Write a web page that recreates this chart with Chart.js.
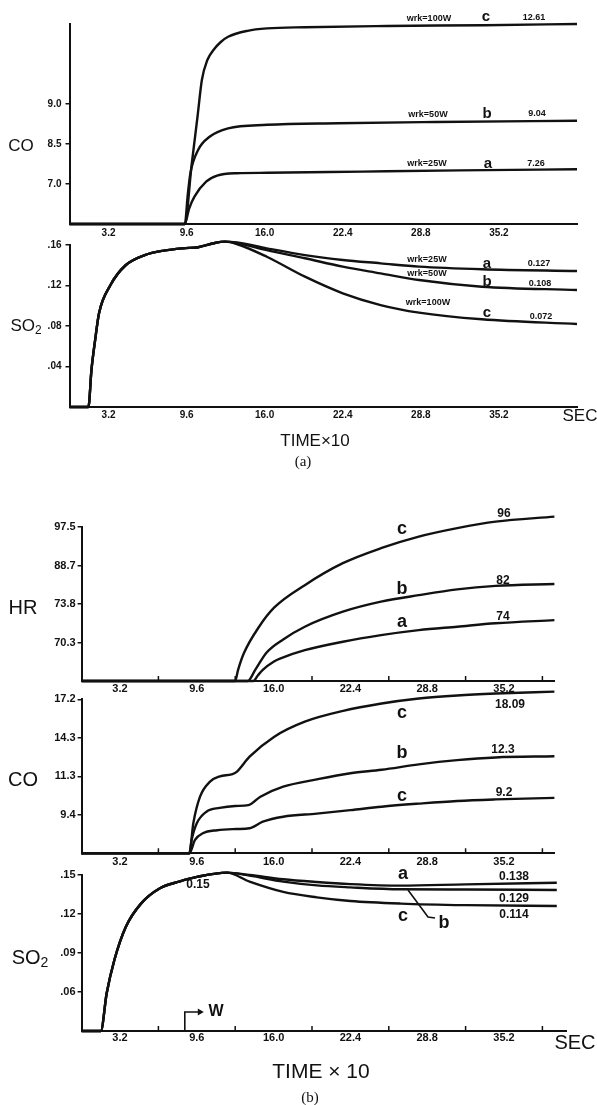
<!DOCTYPE html>
<html>
<head>
<meta charset="utf-8">
<script src="https://cdn.jsdelivr.net/npm/chart.js@4.4.1/dist/chart.umd.min.js"></script>
<style>
  html, body { margin: 0; padding: 0; background: #fff; }
  #page { position: relative; width: 597px; height: 1105px; overflow: hidden;
          font-family: "Liberation Sans", Arial, sans-serif; color: #111; }
  canvas { position: absolute; left: 0; }
  .lbl { position: absolute; transform: translate(-50%, -50%); white-space: nowrap; line-height: 1; }
  .axA { font-size: 17px; }
  .axB { font-size: 20px; }
  .axA sub, .axB sub { font-size: 0.7em; vertical-align: -0.25em; }
  .wrk { font-size: 9px; font-weight: bold; }
  .letA { font-size: 15px; font-weight: bold; }
  .numA { font-size: 9px; font-weight: bold; }
  .letB { font-size: 18px; font-weight: bold; }
  .numB { font-size: 12px; font-weight: bold; }
  .secA { font-size: 17px; }
  .secB { font-size: 20px; }
  .timeA { font-size: 17px; }
  .timeB { font-size: 21px; }
  .cap { font-family: "Liberation Serif", serif; font-size: 15px; }
  .w { font-size: 16px; font-weight: bold; }
</style>
</head>
<body>
<div id="page">
  <canvas id="coA"></canvas>
  <canvas id="so2A"></canvas>
  <canvas id="hrB"></canvas>
  <canvas id="coB"></canvas>
  <canvas id="so2B"></canvas>
</div>
<script>
// ============================
// DATA
// ============================

// time axis (x10 sec)
const TIME_LABELS = [3.2, 9.6, 16.0, 22.4, 28.8, 35.2];
const TIME_MARKS = [6.4, 12.8, 19.2, 25.6, 32.0, 38.4];

// (a) CO - printed ticks are not evenly valued, so curves sit on tick steps
const coA_ticks = [1, 2, 3];
const coA_tickLabels = ["7.0", "8.5", "9.0"];
const coA_tC = [0, 9.45, 10.0, 10.5, 10.85, 11.3, 11.8, 12.4, 13.0, 14.6, 16.2, 19.3, 26, 34, 41.6];
const coA_c  = [0, 0, 1.45, 2.7, 3.6, 4.1, 4.35, 4.55, 4.68, 4.83, 4.89, 4.92, 4.95, 4.97, 5.0];
const coA_tB = [0, 9.45, 9.7, 9.91, 10.54, 11.48, 13.0, 16.2, 22, 30, 41.6];
const coA_b  = [0, 0, 0.75, 1.27, 1.85, 2.18, 2.39, 2.48, 2.52, 2.55, 2.58];
const coA_tA = [0, 9.45, 9.8, 10.23, 11.2, 12.1, 13.7, 16.2, 24, 32, 41.6];
const coA_a  = [0, 0, 0.38, 0.68, 1.06, 1.21, 1.27, 1.28, 1.31, 1.34, 1.37];

// (a) SO2
const so2A_ticks = [0.04, 0.08, 0.12, 0.16];
const so2A_tickLabels = [".04", ".08", ".12", ".16"];
const so2A_tRise = [0, 1.55, 1.8, 2.1, 2.42, 3.36, 4.6, 6.17, 7.73, 9.3, 10.54, 11.8, 12.73];
const so2A_rise  = [0, 0, 0.0366, 0.066, 0.0926, 0.1205, 0.140, 0.150, 0.1545, 0.1568, 0.1578, 0.1617, 0.1633];
const so2A_tTail = [13.7, 16.17, 19.3, 22.4, 25.5, 28.65, 33.8, 41.6];
const so2A_a = [0.1625, 0.1567, 0.150, 0.1452, 0.1419, 0.1386, 0.136, 0.1343];
const so2A_b = [0.162, 0.155, 0.1469, 0.1386, 0.132, 0.1254, 0.1188, 0.1156];
const so2A_c = [0.161, 0.1484, 0.1287, 0.1123, 0.1007, 0.0932, 0.0866, 0.082];

// (b) HR - tick steps
const hrB_ticks = [1, 2, 3, 4];
const hrB_tickLabels = ["70.3", "73.8", "88.7", "97.5"];
const hrB_tC = [0, 12.79, 13.04, 13.52, 14.79, 16.06, 18.6, 21.77, 24.95, 28.1, 31.3, 34.5, 39.4];
const hrB_c  = [0, 0, 0.29, 0.72, 1.41, 1.91, 2.49, 3.06, 3.45, 3.75, 3.97, 4.14, 4.27];
const hrB_tB = [0, 13.84, 14.47, 15.42, 16.8, 18.6, 21.77, 24.95, 28.1, 31.3, 34.5, 39.4];
const hrB_b  = [0, 0, 0.29, 0.74, 1.08, 1.41, 1.8, 2.06, 2.23, 2.38, 2.47, 2.52];
const hrB_tA = [0, 14.31, 14.7, 15.1, 16.0, 16.7, 18.6, 21.77, 24.95, 28.1, 31.3, 34.5, 39.4];
const hrB_a  = [0, 0, 0.15, 0.29, 0.5, 0.6, 0.8, 1.02, 1.19, 1.32, 1.41, 1.50, 1.58];

// (b) CO - tick steps
const coB_ticks = [1, 2, 3, 4];
const coB_tickLabels = ["9.4", "11.3", "14.3", "17.2"];
const coB_tC = [0, 8.98, 9.31, 9.87, 10.7, 11.53, 12.5, 12.9, 14.0, 16.06, 18.6, 21.8, 25.0, 28.1, 31.3, 34.5, 39.4];
const coB_c  = [0, 0, 0.78, 1.47, 1.86, 2.0, 2.05, 2.11, 2.51, 3.03, 3.42, 3.70, 3.89, 4.02, 4.10, 4.15, 4.2];
const coB_tB = [0, 8.98, 9.17, 9.6, 10.4, 11.5, 12.8, 13.9, 14.9, 16.8, 19.6, 22.4, 25.0, 28.1, 31.3, 34.5, 39.4];
const coB_b  = [0, 0, 0.35, 0.78, 1.08, 1.18, 1.23, 1.25, 1.47, 1.73, 1.92, 2.08, 2.17, 2.31, 2.42, 2.49, 2.52];
const coB_tA = [0, 8.98, 9.45, 10.1, 11.3, 12.9, 14.0, 15.1, 16.8, 19.6, 22.4, 25.0, 28.1, 31.3, 34.5, 39.4];
const coB_a  = [0, 0, 0.35, 0.52, 0.6, 0.63, 0.65, 0.82, 0.95, 1.03, 1.12, 1.21, 1.29, 1.36, 1.40, 1.44];

// (b) SO2 - baseline is 0.03
const so2B_ticks = [0.06, 0.09, 0.12, 0.15];
const so2B_tickLabels = [".06", ".09", ".12", ".15"];
const so2B_tRise = [0, 1.6, 2.09, 2.73, 3.68, 4.95, 6.53, 8.13, 9.7, 12.1];
const so2B_rise  = [0.03, 0.03, 0.059, 0.0846, 0.110, 0.128, 0.1398, 0.1449, 0.1487, 0.1518];
const so2B_tTail = [14.0, 16.8, 19.6, 22.4, 26.6, 32.0, 39.6];
const so2B_a = [0.150, 0.1467, 0.1446, 0.143, 0.1418, 0.1428, 0.144];
const so2B_b = [0.1495, 0.1449, 0.142, 0.1405, 0.139, 0.1388, 0.1385];
const so2B_c = [0.1449, 0.137, 0.1328, 0.130, 0.128, 0.1268, 0.1262];
const wStartTime = 8.6;

// ============================
// HELPERS
// ============================

const INK = "#111";
Chart.defaults.font.family = '"Liberation Sans", Arial, sans-serif';
Chart.defaults.color = INK;

function series(times, values) {
  return {
    data: times.map((t, i) => ({ x: t, y: values[i] })),
    borderColor: INK,
    borderWidth: 2.4,
    pointRadius: 0,
    cubicInterpolationMode: "monotone",
    fill: false,
    clip: false
  };
}

function joined(tHead, head, tTail, tail) {
  return series(tHead.concat(tTail), head.concat(tail));
}

function innerTicks(values) {
  return {
    id: "innerTicks",
    afterDraw(chart) {
      const { ctx, scales: { x, y } } = chart;
      ctx.save();
      ctx.strokeStyle = INK;
      ctx.lineWidth = 1.5;
      values.forEach(v => {
        const px = x.getPixelForValue(v);
        ctx.beginPath();
        ctx.moveTo(px, y.bottom);
        ctx.lineTo(px, y.bottom - 5);
        ctx.stroke();
      });
      ctx.restore();
    }
  };
}

function panel(id, g, datasets, yTicks, yLabels, extra) {
  const cv = document.getElementById(id);
  cv.width = 597;
  cv.height = g.ch;
  cv.style.top = g.ct + "px";
  const xAxisH = 22;

  return new Chart(cv, {
    type: "line",
    data: { datasets },
    options: {
      responsive: false,
      animation: false,
      devicePixelRatio: 1,
      layout: {
        padding: {
          left: 0,
          right: 597 - g.right,
          top: g.top - g.ct,
          bottom: g.ct + g.ch - g.bottom - xAxisH
        }
      },
      plugins: { legend: { display: false }, tooltip: { enabled: false } },
      scales: {
        x: {
          type: "linear",
          min: 0,
          max: g.xmax,
          afterFit: s => { s.height = xAxisH; },
          afterBuildTicks: s => { s.ticks = TIME_LABELS.map(v => ({ value: v })); },
          ticks: {
            autoSkip: false,
            maxRotation: 0,
            padding: g.xpad,
            color: INK,
            font: { size: g.fs, weight: "bold" },
            callback: v => Number(v).toFixed(1)
          },
          grid: { display: false, drawTicks: false },
          border: { display: true, color: INK, width: 2 }
        },
        y: {
          type: "linear",
          min: g.ymin,
          max: g.ymax,
          afterFit: s => { s.width = g.left; },
          afterBuildTicks: s => { s.ticks = yTicks.map(v => ({ value: v })); },
          ticks: {
            autoSkip: false,
            padding: g.ypad,
            color: INK,
            font: { size: g.fs, weight: "bold" },
            callback: (v, i) => yLabels[i]
          },
          grid: { drawOnChartArea: false, drawTicks: true, tickLength: 4, color: INK, lineWidth: 1.5 },
          border: { display: true, color: INK, width: 2 }
        }
      }
    },
    plugins: extra || []
  });
}

// ============================
// PANELS
// ============================

panel("coA",
  { ct: 0, ch: 248, left: 69.5, right: 577, top: 24, bottom: 224, xmax: 41.6, ymin: 0, ymax: 5.0, xpad: 3, ypad: 4, fs: 10 },
  [series(coA_tC, coA_c), series(coA_tB, coA_b), series(coA_tA, coA_a)],
  coA_ticks, coA_tickLabels);

panel("so2A",
  { ct: 232, ch: 200, left: 69.5, right: 577, top: 245, bottom: 407, xmax: 41.6, ymin: 0, ymax: 0.16, xpad: 2, ypad: 4, fs: 10 },
  [joined(so2A_tRise, so2A_rise, so2A_tTail, so2A_a),
   joined(so2A_tRise, so2A_rise, so2A_tTail, so2A_b),
   joined(so2A_tRise, so2A_rise, so2A_tTail, so2A_c)],
  so2A_ticks, so2A_tickLabels);

panel("hrB",
  { ct: 495, ch: 210, left: 81.6, right: 554.4, top: 527, bottom: 681, xmax: 39.4, ymin: 0, ymax: 4, xpad: 1, ypad: 2, fs: 11 },
  [series(hrB_tC, hrB_c), series(hrB_tB, hrB_b), series(hrB_tA, hrB_a)],
  hrB_ticks, hrB_tickLabels, [innerTicks(TIME_MARKS)]);

panel("coB",
  { ct: 682, ch: 196, left: 81.6, right: 554.4, top: 699.3, bottom: 853.3, xmax: 39.4, ymin: 0, ymax: 4, xpad: 2, ypad: 2, fs: 11 },
  [series(coB_tC, coB_c), series(coB_tB, coB_b), series(coB_tA, coB_a)],
  coB_ticks, coB_tickLabels, [innerTicks(TIME_MARKS)]);

const so2BExtras = {
  id: "so2BExtras",
  afterDraw(chart) {
    const { ctx, scales: { x, y } } = chart;
    ctx.save();
    ctx.strokeStyle = INK;
    ctx.fillStyle = INK;
    ctx.lineWidth = 1.6;
    // W start marker
    const wx = x.getPixelForValue(wStartTime);
    const wy = y.bottom - 19;
    ctx.beginPath();
    ctx.moveTo(wx, y.bottom);
    ctx.lineTo(wx, wy);
    ctx.lineTo(wx + 16, wy);
    ctx.stroke();
    ctx.beginPath();
    ctx.moveTo(wx + 19, wy);
    ctx.lineTo(wx + 13, wy - 3.5);
    ctx.lineTo(wx + 13, wy + 3.5);
    ctx.closePath();
    ctx.fill();
    // leader to curve b
    const bx = x.getPixelForValue(27.2), by = y.getPixelForValue(0.1385);
    ctx.beginPath();
    ctx.moveTo(bx, by);
    ctx.lineTo(bx + 20, by + 27);
    ctx.lineTo(bx + 27, by + 28);
    ctx.stroke();
    ctx.restore();
  }
};

panel("so2B",
  { ct: 862, ch: 197, left: 81.6, right: 566.4, top: 875, bottom: 1031, xmax: 40.4, ymin: 0.03, ymax: 0.15, xpad: 0, ypad: 2, fs: 11 },
  [joined(so2B_tRise, so2B_rise, so2B_tTail, so2B_a),
   joined(so2B_tRise, so2B_rise, so2B_tTail, so2B_b),
   joined(so2B_tRise, so2B_rise, so2B_tTail, so2B_c)],
  so2B_ticks, so2B_tickLabels, [innerTicks(TIME_MARKS), so2BExtras]);

// ============================
// TEXT
// ============================

const page = document.getElementById("page");
function place(html, cx, cy, cls) {
  const d = document.createElement("div");
  d.className = "lbl " + cls;
  d.innerHTML = html;
  d.style.left = cx + "px";
  d.style.top = cy + "px";
  page.appendChild(d);
}

// (a)
place("CO", 21, 145, "axA");
place("wrk=100W", 429, 18, "wrk"); place("c", 486, 15, "letA"); place("12.61", 534, 17, "numA");
place("wrk=50W", 428, 114, "wrk"); place("b", 487, 112, "letA"); place("9.04", 537, 113, "numA");
place("wrk=25W", 427, 163, "wrk"); place("a", 488, 162, "letA"); place("7.26", 536, 163, "numA");

place("SO<sub>2</sub>", 26, 327, "axA");
place("wrk=25W", 427, 259, "wrk"); place("a", 487, 262, "letA"); place("0.127", 539, 263, "numA");
place("wrk=50W", 427, 273, "wrk"); place("b", 487, 280, "letA"); place("0.108", 540, 283, "numA");
place("wrk=100W", 428, 302, "wrk"); place("c", 487, 311, "letA"); place("0.072", 541, 316, "numA");
place("SEC", 580, 415, "secA");
place("TIME×10", 315, 440, "timeA");
place("(a)", 303, 461, "cap");

// (b)
place("HR", 23, 607, "axB");
place("c", 402, 528, "letB"); place("96", 504, 513, "numB");
place("b", 402, 588, "letB"); place("82", 503, 580, "numB");
place("a", 402, 621, "letB"); place("74", 503, 616, "numB");

place("CO", 23, 779, "axB");
place("c", 402, 712, "letB"); place("18.09", 510, 704, "numB");
place("b", 402, 752, "letB"); place("12.3", 503, 749, "numB");
place("c", 402, 795, "letB"); place("9.2", 504, 792, "numB");

place("SO<sub>2</sub>", 30, 958, "axB");
place("0.15", 198, 884, "numB");
place("a", 403, 873, "letB"); place("0.138", 514, 876, "numB");
place("0.129", 514, 898, "numB");
place("c", 403, 915, "letB"); place("0.114", 514, 914, "numB");
place("b", 444, 922, "letB");
place("W", 216, 1011, "w");
place("SEC", 575, 1042, "secB");
place("TIME × 10", 321, 1070, "timeB");
place("(b)", 310, 1097, "cap");
</script>
</body>
</html>
